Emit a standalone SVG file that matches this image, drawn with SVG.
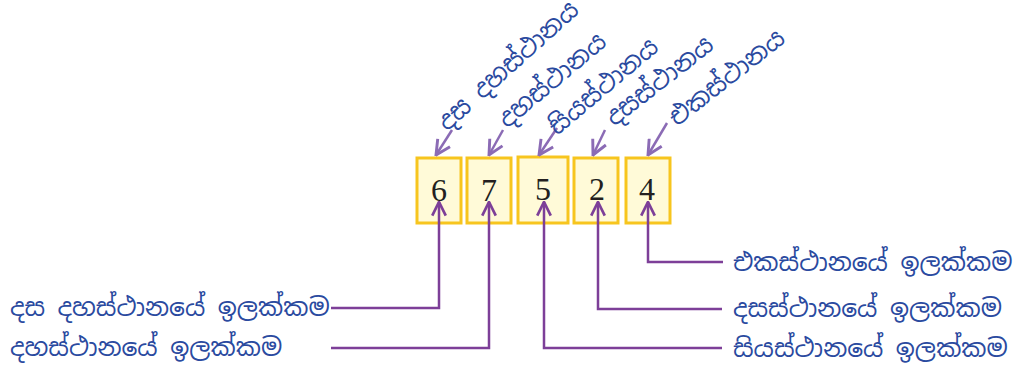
<svg xmlns="http://www.w3.org/2000/svg" width="1019" height="366" viewBox="0 0 1019 366">
<style>
.box{fill:#fffad8;stroke:#f7c51e;stroke-width:3}
.dig{font-family:"Liberation Serif",serif;font-size:32px;fill:#231f20;text-anchor:middle}
.lbl{font-family:"Noto Sans Sinhala","Noto Sans",sans-serif;font-size:25px;fill:#2a4a9f}
.up{fill:none;stroke:#7d3f98;stroke-width:2.5}
.dn{fill:none;stroke:#8b6bb5;stroke-width:2.5}
</style>
<defs>
<marker id="ah" viewBox="0 0 12 12" refX="11" refY="6" markerWidth="6.5" markerHeight="6.5" orient="auto" markerUnits="strokeWidth">
<path d="M1,1 L11,6 L1,11" fill="none" stroke="#7d3f98" stroke-width="2"/>
</marker>
<marker id="ah2" viewBox="0 0 12 12" refX="11" refY="6" markerWidth="7" markerHeight="7" orient="auto" markerUnits="strokeWidth">
<path d="M1,1 L11,6 L1,11" fill="none" stroke="#8b6bb5" stroke-width="2"/>
</marker>
</defs>
<g id="box1"><rect class="box" x="417" y="158" width="44" height="65"/><text class="dig" x="439" y="201">6</text></g>
<g id="box2"><rect class="box" x="467" y="158" width="44" height="65"/><text class="dig" x="489" y="201">7</text></g>
<g id="box3"><rect class="box" x="518" y="157" width="50" height="66"/><text class="dig" x="543" y="200">5</text></g>
<g id="box4"><rect class="box" x="574" y="158" width="44" height="65"/><text class="dig" x="597" y="200">2</text></g>
<g id="box5"><rect class="box" x="626" y="158" width="44" height="65"/><text class="dig" x="647" y="200">4</text></g>
<g id="connectors">
<path class="up" d="M331,308 H439 V202" marker-end="url(#ah)"/>
<path class="up" d="M331,348 H489 V202" marker-end="url(#ah)"/>
<path class="up" d="M722,348 H544 V202" marker-end="url(#ah)"/>
<path class="up" d="M722,309 H598 V202" marker-end="url(#ah)"/>
<path class="up" d="M723,262 H648 V202" marker-end="url(#ah)"/>
<path class="dn" d="M452,130 L436,155" marker-end="url(#ah2)"/>
<path class="dn" d="M503,130 L489,155" marker-end="url(#ah2)"/>
<path class="dn" d="M557,128 L539,155" marker-end="url(#ah2)"/>
<path class="dn" d="M605,130 L593,155" marker-end="url(#ah2)"/>
<path class="dn" d="M667,123 L648,155" marker-end="url(#ah2)"/>
</g>
<g id="top-labels">
<text class="lbl" transform="translate(447,132) rotate(-42)">දස දහස්ථානය</text>
<text class="lbl" transform="translate(507,129) rotate(-40)">දහස්ථානය</text>
<text class="lbl" transform="translate(557,136) rotate(-40)">සියස්ථානය</text>
<text class="lbl" transform="translate(614,127) rotate(-38)">දසස්ථානය</text>
<text class="lbl" transform="translate(677,127) rotate(-38)">එකස්ථානය</text>
</g>
<g id="bottom-labels">
<text class="lbl" x="10" y="316">දස දහස්ථානයේ ඉලක්කම</text>
<text class="lbl" x="10" y="356">දහස්ථානයේ ඉලක්කම</text>
<text class="lbl" x="733" y="271">එකස්ථානයේ ඉලක්කම</text>
<text class="lbl" x="733" y="317">දසස්ථානයේ ඉලක්කම</text>
<text class="lbl" x="733" y="357">සියස්ථානයේ ඉලක්කම</text>
</g>
</svg>
